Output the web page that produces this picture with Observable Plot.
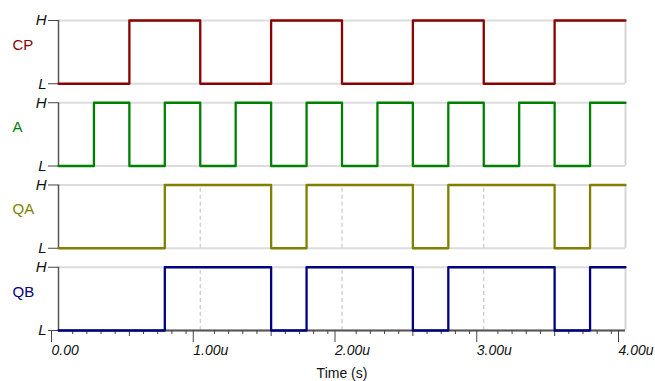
<!DOCTYPE html>
<html><head><meta charset="utf-8">
<script src="https://cdn.jsdelivr.net/npm/d3@7"></script>
<script src="https://cdn.jsdelivr.net/npm/@observablehq/plot@0.6"></script>
<style>body{margin:0;background:#fff}</style>
</head><body><div id="chart"></div>
<script>
// ---- data ----
const signalNames = ["CP", "A", "QA", "QB"];
const signalColors = ["#8b0000", "#008000", "#808000", "#000080"];
const cpTimes  = [0, 0.5, 1, 1.5, 2, 2.5, 3, 3.5, 4];
const cpLevels = [0, 1, 0, 1, 0, 1, 0, 1, 1];
const aTimes  = [0, 0.25, 0.5, 0.75, 1, 1.25, 1.5, 1.75, 2, 2.25, 2.5, 2.75, 3, 3.25, 3.5, 3.75, 4];
const aLevels = [0, 1, 0, 1, 0, 1, 0, 1, 0, 1, 0, 1, 0, 1, 0, 1, 1];
const qaTimes  = [0, 0.75, 1.5, 1.75, 2.5, 2.75, 3.5, 3.75, 4];
const qaLevels = [0, 1, 0, 1, 0, 1, 0, 1, 1];
const qbTimes  = [0, 0.75, 1.5, 1.75, 2.5, 2.75, 3.5, 3.75, 4];
const qbLevels = [0, 1, 0, 1, 0, 1, 0, 1, 1];
const majorTicks  = [0, 1, 2, 3, 4];
const majorLabels = ["0.00", "1.00u", "2.00u", "3.00u", "4.00u"];
const halfTicks   = [0.5, 1.5, 2.5, 3.5];
const gridTicks   = [1, 2, 3];
const levelLabels = ["L", "H"];
const xLabel = "Time (s)";

// ---- build tables ----
const series = [[cpTimes, cpLevels], [aTimes, aLevels], [qaTimes, qaLevels], [qbTimes, qbLevels]];
const gap = 1.3;
const base = i => -i * gap;
const rows = [];
series.forEach(([ts, ls], i) => ts.forEach((t, j) => rows.push({signal: signalNames[i], t, y: ls[j] + base(i)})));
const levelRows = [];
signalNames.forEach((s, i) => [0, 1].forEach(l => levelRows.push({y: l + base(i), label: levelLabels[l]})));
const yTickMap = new Map(levelRows.map(d => [d.y, d.label]));
const panelRows = signalNames.map((s, i) => ({signal: s, y1: base(i), y2: base(i) + 1, color: signalColors[i]}));
const gridRows = [];
panelRows.forEach(p => gridTicks.forEach(x => gridRows.push({x, y1: p.y1, y2: p.y2})));
const minorTicks = d3.range(0, 41).filter(i => i % 5 !== 0).map(i => i / 10);
const yBottom = base(3);
const font = "'Liberation Sans', Arial, sans-serif";

const chart = Plot.plot({
  width: 655, height: 381,
  marginLeft: 58, marginRight: 30, marginTop: 20, marginBottom: 51,
  style: {fontFamily: font, fontSize: "14px", background: "#fff", color: "#111"},
  x: {domain: [0, 4], axis: null},
  y: {domain: [yBottom, 1], axis: null},
  color: {domain: signalNames, range: signalColors},
  marks: [
    Plot.ruleY(levelRows, {y: "y", x1: 0, x2: 4, stroke: "#dcdcdc", strokeWidth: 2}),
    Plot.ruleX(gridRows, {x: "x", y1: "y1", y2: "y2", stroke: "#c8c8c8", strokeWidth: 1.2, strokeDasharray: "4,3"}),
    Plot.ruleX(panelRows, {x: 4, y1: "y1", y2: "y2", stroke: "#d4d4d4", strokeWidth: 2}),
    Plot.ruleX(panelRows, {x: 0, y1: "y1", y2: "y2", stroke: "#555", strokeWidth: 1.5}),
    Plot.ruleY([yBottom], {x1: 0, x2: 4, stroke: "#555", strokeWidth: 2}),
    Plot.axisY({ticks: levelRows.map(d => d.y), tickFormat: d => yTickMap.get(d), tickSize: 10, tickPadding: 2, fontSize: 15, fontStyle: "italic", stroke: "#444", fill: "#111"}),
    Plot.axisX({ticks: majorTicks, tickSize: 12, tickPadding: 3, tickFormat: d => majorLabels[majorTicks.indexOf(d)], textAnchor: "start", dx: -7, fontSize: 14, fontStyle: "italic", stroke: "#444", fill: "#111", label: null}),
    Plot.axisX({ticks: halfTicks, tickSize: 6, tickFormat: () => "", stroke: "#444", label: null}),
    Plot.axisX({ticks: minorTicks, tickSize: 4, tickFormat: () => "", stroke: "#444", label: null}),
    Plot.line(rows, {x: "t", y: "y", z: "signal", stroke: "signal", strokeWidth: 2.3, curve: "step-after"}),
    Plot.text(panelRows, {x: 0, y: d => d.y1 + 0.5, text: "signal", fill: "color", dx: -46, dy: -7, textAnchor: "start", fontSize: 15}),
    Plot.text([{x: 2, y: yBottom, label: xLabel}], {x: "x", y: "y", text: "label", dy: 43, fontSize: 14, fill: "#111"})
  ]
});
chart.querySelectorAll("[aria-label^='y-axis tick label'], [aria-label^='x-axis tick label']").forEach(g => g.setAttribute("font-style", "italic"));
document.getElementById("chart").appendChild(chart);
</script>
</body></html>
